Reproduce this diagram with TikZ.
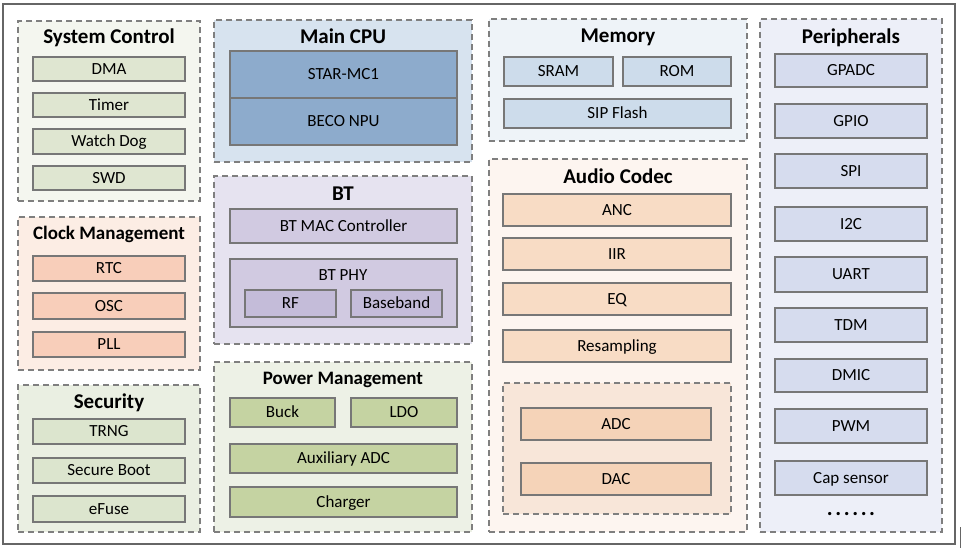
\documentclass[tikz,border=0pt]{standalone}
\usepackage{fontspec}
\setmainfont{Carlito}
\definecolor{grpline}{HTML}{7F7F7F}
\definecolor{itmline}{HTML}{777777}
\definecolor{scgrp}{HTML}{F4F6EF}
\definecolor{scitm}{HTML}{DFE6D1}
\definecolor{ckgrp}{HTML}{FCEDE4}
\definecolor{ckitm}{HTML}{F8CEBA}
\definecolor{segrp}{HTML}{EAEFE2}
\definecolor{seitm}{HTML}{DCE5CE}
\definecolor{cpugrp}{HTML}{D7E3EF}
\definecolor{cpuitm}{HTML}{8DABCC}
\definecolor{btgrp}{HTML}{E6E3F0}
\definecolor{btitm}{HTML}{D1CAE1}
\definecolor{btsub}{HTML}{C4BCD9}
\definecolor{pmgrp}{HTML}{EDF1E6}
\definecolor{pmitm}{HTML}{C5D3A2}
\definecolor{memgrp}{HTML}{EEF3F8}
\definecolor{memitm}{HTML}{CDDCEB}
\definecolor{acgrp}{HTML}{FDF5F0}
\definecolor{acitm}{HTML}{F8DCC5}
\definecolor{acin}{HTML}{F8E6D9}
\definecolor{acadc}{HTML}{F5D3B8}
\definecolor{pegrp}{HTML}{EDEFF8}
\definecolor{peitm}{HTML}{D6DCEE}
\tikzset{
  grp/.style={draw=grpline, dash pattern=on 6pt off 4pt, line width=1.1pt, inner sep=0pt, outer sep=0pt, rectangle},
  itm/.style={draw=itmline, line width=1.1pt, inner sep=0pt, outer sep=0pt, rectangle,
    font=\fontsize{17}{19}\selectfont, text height=10.8pt, text depth=0pt},
  lbl/.style={inner sep=0pt, outer sep=0pt, font=\fontsize{17}{19}\selectfont, text height=10.8pt, text depth=0pt},
  ttl/.style={inner sep=0pt, outer sep=0pt, font=\bfseries\fontsize{21}{23}\selectfont, text height=13.4pt, text depth=0pt},
  ttls/.style={ttl, font=\bfseries\fontsize{19}{21}\selectfont, text height=12.1pt},
}
\newcommand\bx[7]{\node[#6, minimum width={(#4-#2)*1pt}, minimum height={(#5-#3)*1pt}] (#1) at ({(#2+#4)/2},{(#3+#5)/2}) {#7};}
\begin{document}
\begin{tikzpicture}[x=1pt,y=-1pt]
\useasboundingbox (0,0) rectangle (961,548);
\fill[white] (0,0) rectangle (961,548);
% outer frame
\node[draw=black!60, line width=1.6pt, rectangle, inner sep=0pt, minimum width=952pt, minimum height=540pt] (frame) at (479,274) {};
\draw[black!60, line width=1pt] (960,527) -- (960,548);

% ---------- System Control
\bx{sc}{18}{21}{200}{201}{grp, fill=scgrp}{}
\node[ttl] (sct) at (109,37) {System Control};
\bx{dma}{33}{57}{185}{81}{itm, fill=scitm}{DMA}
\bx{timer}{33}{93}{185}{117}{itm, fill=scitm}{Timer}
\bx{wdog}{33}{129}{185}{154}{itm, fill=scitm}{Watch Dog}
\bx{swd}{33}{166}{185}{190}{itm, fill=scitm}{SWD}

% ---------- Clock Management
\bx{ck}{18}{217}{200}{370}{grp, fill=ckgrp}{}
\node[ttls] (ckt) at (109,233) {Clock Management};
\bx{rtc}{33}{256}{185}{281}{itm, fill=ckitm}{RTC}
\bx{osc}{33}{293}{185}{319}{itm, fill=ckitm}{OSC}
\bx{pll}{33}{332}{185}{357}{itm, fill=ckitm}{PLL}

% ---------- Security
\bx{se}{18}{385}{200}{532}{grp, fill=segrp}{}
\node[ttl] (set) at (109,402) {Security};
\bx{trng}{33}{419}{185}{444}{itm, fill=seitm}{TRNG}
\bx{sboot}{33}{458}{185}{483}{itm, fill=seitm}{Secure Boot}
\bx{efuse}{33}{496}{185}{522}{itm, fill=seitm}{eFuse}

% ---------- Main CPU
\bx{cpu}{214}{20}{472}{162}{grp, fill=cpugrp}{}
\node[ttl] (cput) at (343,37) {Main CPU};
\bx{star}{230}{51}{457}{98}{itm, fill=cpuitm}{STAR-MC1}
\bx{npu}{230}{98}{457}{145}{itm, fill=cpuitm}{BECO NPU}

% ---------- BT
\bx{bt}{214}{176}{472}{344}{grp, fill=btgrp}{}
\node[ttl] (btt) at (343,194) {BT};
\bx{btmac}{230}{209}{457}{243}{itm, fill=btitm}{BT MAC Controller}
\bx{btphy}{230}{259}{457}{327}{itm, fill=btitm}{}
\node[lbl] (btphyl) at (343,275) {BT PHY};
\bx{rf}{245}{290}{336}{317}{itm, fill=btsub}{RF}
\bx{bb}{351}{290}{442}{317}{itm, fill=btsub}{Baseband}

% ---------- Power Management
\bx{pm}{214}{362}{472}{532}{grp, fill=pmgrp}{}
\node[ttls] (pmt) at (343,378) {Power Management};
\bx{buck}{230}{398}{335}{427}{itm, fill=pmitm}{Buck}
\bx{ldo}{351}{398}{457}{427}{itm, fill=pmitm}{LDO}
\bx{auxadc}{230}{444}{457}{473}{itm, fill=pmitm}{Auxiliary ADC}
\bx{charger}{230}{487}{457}{517}{itm, fill=pmitm}{Charger}

% ---------- Memory
\bx{mem}{489}{19}{747}{141}{grp, fill=memgrp}{}
\node[ttl] (memt) at (618,36) {Memory};
\bx{sram}{504}{57}{613}{86}{itm, fill=memitm}{SRAM}
\bx{rom}{623}{57}{731}{86}{itm, fill=memitm}{ROM}
\bx{flash}{504}{99}{731}{128}{itm, fill=memitm}{SIP Flash}

% ---------- Audio Codec
\bx{ac}{489}{159}{747}{532}{grp, fill=acgrp}{}
\node[ttl] (act) at (618,177) {Audio Codec};
\bx{anc}{503}{194}{731}{226}{itm, fill=acitm}{ANC}
\bx{iir}{503}{238}{731}{270}{itm, fill=acitm}{IIR}
\bx{eq}{503}{283}{731}{315}{itm, fill=acitm}{EQ}
\bx{resamp}{503}{330}{731}{362}{itm, fill=acitm}{Resampling}
\bx{conv}{503}{383}{731}{514}{grp, fill=acin}{}
\bx{adc}{521}{408}{711}{440}{itm, fill=acadc}{ADC}
\bx{dac}{521}{463}{711}{495}{itm, fill=acadc}{DAC}

% ---------- Peripherals
\bx{pe}{760}{19}{942}{532}{grp, fill=pegrp}{}
\node[ttl] (pet) at (851,37) {Peripherals};
\bx{gpadc}{775}{54}{927}{87}{itm, fill=peitm}{GPADC}
\bx{gpio}{775}{104}{927}{138}{itm, fill=peitm}{GPIO}
\bx{spi}{775}{154}{927}{188}{itm, fill=peitm}{SPI}
\bx{iic}{775}{207}{927}{241}{itm, fill=peitm}{I2C}
\bx{uart}{775}{257}{927}{292}{itm, fill=peitm}{UART}
\bx{tdm}{775}{308}{927}{342}{itm, fill=peitm}{TDM}
\bx{dmic}{775}{359}{927}{392}{itm, fill=peitm}{DMIC}
\bx{pwm}{775}{409}{927}{443}{itm, fill=peitm}{PWM}
\bx{cap}{775}{461}{927}{495}{itm, fill=peitm}{Cap sensor}
\node[inner sep=0pt, font=\bfseries\fontsize{22}{24}\selectfont] (dots) at (851,514) {.\kern2.6pt.\kern2.6pt.\kern2.6pt.\kern2.6pt.\kern2.6pt.};
\end{tikzpicture}
\end{document}
